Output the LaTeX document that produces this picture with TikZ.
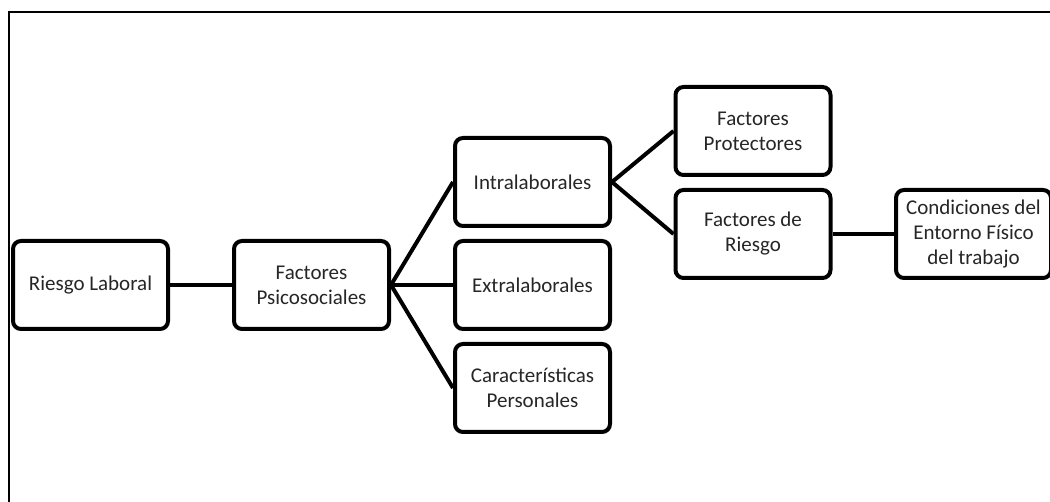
\documentclass[tikz,border=0pt]{standalone}
\usepackage{fontspec}
\setmainfont{Carlito}
\begin{document}
\begin{tikzpicture}[x=1pt,y=-1pt,
  box/.style={draw=black, line width=4pt, rounded corners=8pt, fill=white,
    minimum width=155pt, minimum height=88pt, inner sep=2pt, align=center,
    text=black!85, font=\fontsize{21}{25}\selectfont},
  link/.style={draw=black, line width=4pt}]
\clip (0,0) rectangle (1050,502);
\fill[white] (0,0) rectangle (1050,502);
\draw[line width=2pt] (9,530) -- (9,12) -- (1080,12);
\node[box] (rl) at (90.5,285) {Riesgo Laboral};
\node[box] (fp) at (311.5,285) {Factores\\Psicosociales};
\node[box] (in) at (532.5,182) {Intralaborales};
\node[box] (ex) at (532.5,285) {Extralaborales};
\node[box] (cp) at (532.5,388) {Características\\Personales};
\node[box] (pr) at (753,131) {Factores\\Protectores};
\node[box] (fr) at (753,234) {Factores de\\Riesgo};
\node[box] (co) at (973.5,234) {Condiciones del\\Entorno Físico\\del trabajo};
\draw[link] (rl.east) -- (fp.west);
\draw[link] (fp.east) -- (in.west);
\draw[link] (fp.east) -- (ex.west);
\draw[link] (fp.east) -- (cp.west);
\draw[link] (in.east) -- (pr.west);
\draw[link] (in.east) -- (fr.west);
\draw[link] (fr.east) -- (co.west);
\end{tikzpicture}
\end{document}
